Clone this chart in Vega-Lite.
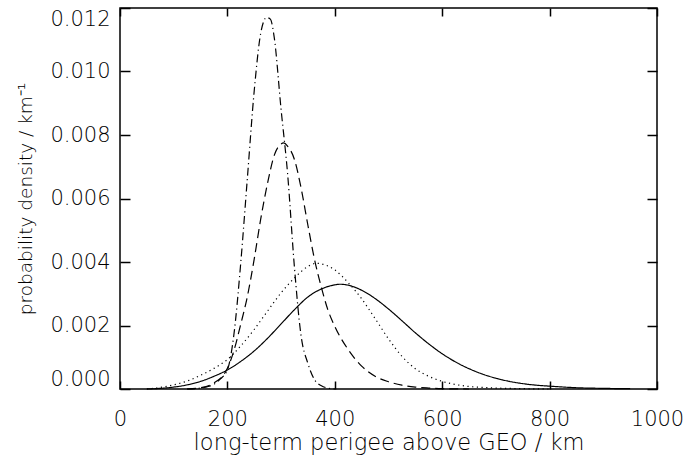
{
  "$schema": "https://vega.github.io/schema/vega-lite/v6.json",
  "width": 537,
  "height": 381,
  "autosize": "none",
  "padding": {"left": 120, "top": 8, "right": 27, "bottom": 71},
  "background": "white",
  "config": {
    "view": {"stroke": "black", "strokeWidth": 1.5},
    "axis": {
      "domain": false,
      "grid": false,
      "ticks": true,
      "tickColor": "#000000",
      "tickWidth": 1.5,
      "labelFont": "DejaVu Sans",
      "labelFontWeight": 200,
      "labelFontSize": 21,
      "labelColor": "black",
      "titleFont": "DejaVu Sans",
      "titleFontWeight": 200,
      "titleColor": "black"
    }
  },
  "datasets": {
    "curves": [
      {"x": 50, "y": 0, "s": "a"}, {"x": 75, "y": 0.00002, "s": "a"}, {"x": 100, "y": 0.00006, "s": "a"}, {"x": 125, "y": 0.00013, "s": "a"}, {"x": 150, "y": 0.00024, "s": "a"}, {"x": 175, "y": 0.0004, "s": "a"}, {"x": 200, "y": 0.0006, "s": "a"}, {"x": 225, "y": 0.00087, "s": "a"}, {"x": 250, "y": 0.0012, "s": "a"}, {"x": 275, "y": 0.0016, "s": "a"}, {"x": 300, "y": 0.00205, "s": "a"}, {"x": 325, "y": 0.0025, "s": "a"}, {"x": 350, "y": 0.0029, "s": "a"}, {"x": 375, "y": 0.00315, "s": "a"}, {"x": 400, "y": 0.00328, "s": "a"}, {"x": 410, "y": 0.0033, "s": "a"}, {"x": 425, "y": 0.00327, "s": "a"}, {"x": 450, "y": 0.00311, "s": "a"}, {"x": 475, "y": 0.00285, "s": "a"}, {"x": 500, "y": 0.00252, "s": "a"}, {"x": 525, "y": 0.00215, "s": "a"}, {"x": 550, "y": 0.00177, "s": "a"}, {"x": 575, "y": 0.00142, "s": "a"}, {"x": 600, "y": 0.00111, "s": "a"}, {"x": 625, "y": 0.00085, "s": "a"}, {"x": 650, "y": 0.00064, "s": "a"}, {"x": 675, "y": 0.00047, "s": "a"}, {"x": 700, "y": 0.00034, "s": "a"}, {"x": 725, "y": 0.00024, "s": "a"}, {"x": 750, "y": 0.00017, "s": "a"}, {"x": 775, "y": 0.00012, "s": "a"}, {"x": 800, "y": 0.00009, "s": "a"}, {"x": 850, "y": 0.00004, "s": "a"}, {"x": 900, "y": 0.00002, "s": "a"}, {"x": 950, "y": 0.00001, "s": "a"},
      {"x": 50, "y": 0, "s": "b"}, {"x": 75, "y": 0.00005, "s": "b"}, {"x": 100, "y": 0.00013, "s": "b"}, {"x": 125, "y": 0.00025, "s": "b"}, {"x": 150, "y": 0.00043, "s": "b"}, {"x": 175, "y": 0.00065, "s": "b"}, {"x": 200, "y": 0.00093, "s": "b"}, {"x": 225, "y": 0.00136, "s": "b"}, {"x": 250, "y": 0.00188, "s": "b"}, {"x": 275, "y": 0.00246, "s": "b"}, {"x": 300, "y": 0.00303, "s": "b"}, {"x": 325, "y": 0.0035, "s": "b"}, {"x": 350, "y": 0.00386, "s": "b"}, {"x": 365, "y": 0.00396, "s": "b"}, {"x": 375, "y": 0.00394, "s": "b"}, {"x": 400, "y": 0.00375, "s": "b"}, {"x": 425, "y": 0.00335, "s": "b"}, {"x": 450, "y": 0.00284, "s": "b"}, {"x": 475, "y": 0.00222, "s": "b"}, {"x": 500, "y": 0.00158, "s": "b"}, {"x": 525, "y": 0.00103, "s": "b"}, {"x": 550, "y": 0.00064, "s": "b"}, {"x": 575, "y": 0.0004, "s": "b"}, {"x": 600, "y": 0.00024, "s": "b"}, {"x": 625, "y": 0.00014, "s": "b"}, {"x": 650, "y": 0.00008, "s": "b"}, {"x": 675, "y": 0.00005, "s": "b"}, {"x": 700, "y": 0.00003, "s": "b"}, {"x": 750, "y": 0.00001, "s": "b"}, {"x": 800, "y": 0, "s": "b"},
      {"x": 125, "y": 0, "s": "c"}, {"x": 150, "y": 0.00004, "s": "c"}, {"x": 175, "y": 0.00019, "s": "c"}, {"x": 200, "y": 0.00065, "s": "c"}, {"x": 212, "y": 0.0012, "s": "c"}, {"x": 225, "y": 0.00205, "s": "c"}, {"x": 237, "y": 0.0029, "s": "c"}, {"x": 250, "y": 0.0041, "s": "c"}, {"x": 262, "y": 0.00535, "s": "c"}, {"x": 275, "y": 0.0065, "s": "c"}, {"x": 287, "y": 0.00735, "s": "c"}, {"x": 300, "y": 0.00772, "s": "c"}, {"x": 305, "y": 0.00775, "s": "c"}, {"x": 312, "y": 0.00765, "s": "c"}, {"x": 325, "y": 0.00722, "s": "c"}, {"x": 337, "y": 0.00635, "s": "c"}, {"x": 350, "y": 0.00515, "s": "c"}, {"x": 362, "y": 0.0041, "s": "c"}, {"x": 375, "y": 0.0032, "s": "c"}, {"x": 387, "y": 0.0025, "s": "c"}, {"x": 400, "y": 0.00197, "s": "c"}, {"x": 425, "y": 0.00124, "s": "c"}, {"x": 450, "y": 0.00072, "s": "c"}, {"x": 475, "y": 0.0004, "s": "c"}, {"x": 500, "y": 0.00023, "s": "c"}, {"x": 525, "y": 0.00012, "s": "c"}, {"x": 550, "y": 0.00006, "s": "c"}, {"x": 575, "y": 0.00003, "s": "c"}, {"x": 600, "y": 0.00001, "s": "c"}, {"x": 650, "y": 0, "s": "c"},
      {"x": 125, "y": 0, "s": "d"}, {"x": 150, "y": 0.00003, "s": "d"}, {"x": 175, "y": 0.00015, "s": "d"}, {"x": 187, "y": 0.00032, "s": "d"}, {"x": 200, "y": 0.0006, "s": "d"}, {"x": 212, "y": 0.0017, "s": "d"}, {"x": 225, "y": 0.004, "s": "d"}, {"x": 237, "y": 0.0066, "s": "d"}, {"x": 250, "y": 0.0094, "s": "d"}, {"x": 262, "y": 0.0112, "s": "d"}, {"x": 273, "y": 0.0117, "s": "d"}, {"x": 280, "y": 0.01165, "s": "d"}, {"x": 287, "y": 0.0111, "s": "d"}, {"x": 300, "y": 0.0088, "s": "d"}, {"x": 312, "y": 0.0068, "s": "d"}, {"x": 325, "y": 0.0038, "s": "d"}, {"x": 337, "y": 0.0017, "s": "d"}, {"x": 350, "y": 0.0008, "s": "d"}, {"x": 362, "y": 0.0003, "s": "d"}, {"x": 375, "y": 0.0001, "s": "d"}, {"x": 387, "y": 0.00003, "s": "d"}, {"x": 400, "y": 0, "s": "d"}
    ]
  },
  "data": {"name": "curves"},
  "resolve": {"axis": {"x": "independent", "y": "independent"}},
  "layer": [
    {
      "mark": {"type": "line", "color": "black", "strokeWidth": 1.2, "interpolate": "monotone"},
      "encoding": {
        "x": {
          "field": "x", "type": "quantitative",
          "scale": {"domain": [0, 1000], "nice": false, "zero": false},
          "axis": {
            "orient": "bottom",
            "title": "long-term perigee above GEO / km",
            "titleFontSize": 22.5,
            "values": [0, 200, 400, 600, 800, 1000],
            "format": "d",
            "ticks": true,
            "offset": -8,
            "tickSize": 8,
            "labelPadding": 19,
            "labelFlush": false,
            "titlePadding": 2
          }
        },
        "y": {
          "field": "y", "type": "quantitative",
          "scale": {"domain": [0, 0.012], "nice": false, "zero": false},
          "axis": {
            "orient": "left",
            "title": "probability density / km⁻¹",
            "titleFontSize": 18.5,
            "values": [0, 0.002, 0.004, 0.006, 0.008, 0.01, 0.012],
            "format": ".3f",
            "ticks": true,
            "offset": -10,
            "tickSize": 10,
            "labelPadding": 10,
            "labelFlush": true,
            "labelFlushOffset": 0,
            "titlePadding": 14
          }
        },
        "strokeDash": {
          "field": "s", "type": "nominal",
          "scale": {"domain": ["a", "b", "c", "d"], "range": [[1, 0], [1.2, 3.5], [9, 5], [8, 3.5, 1.2, 3.5]]},
          "legend": null
        }
      }
    },
    {
      "mark": {"type": "line", "strokeOpacity": 0},
      "encoding": {
        "x": {
          "field": "x", "type": "quantitative",
          "axis": {"orient": "top", "title": null, "labels": false, "ticks": true, "values": [0, 200, 400, 600, 800, 1000], "offset": -8, "tickSize": 8}
        },
        "y": {
          "field": "y", "type": "quantitative",
          "axis": {"orient": "right", "title": null, "labels": false, "ticks": true, "values": [0, 0.002, 0.004, 0.006, 0.008, 0.01, 0.012], "offset": -10, "tickSize": 10}
        },
        "detail": {"field": "s", "type": "nominal"}
      }
    }
  ]
}
